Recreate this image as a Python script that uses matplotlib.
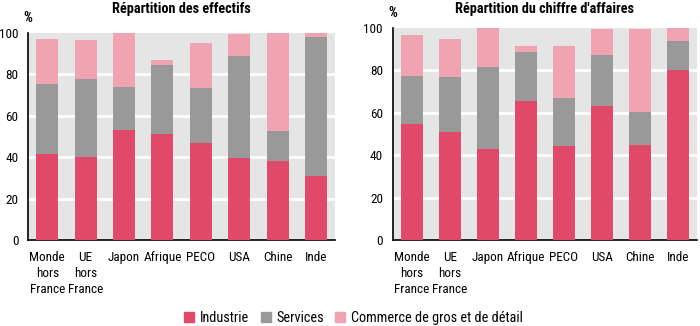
import matplotlib
matplotlib.use('Agg')
import matplotlib.pyplot as plt
from matplotlib.patches import Patch

plt.rcParams['font.family'] = ['Roboto Condensed', 'Archivo Narrow', 'DejaVu Sans']
plt.rcParams['font.size'] = 9

# Categories and shares (%)
regions = ["Monde\nhors\nFrance", "UE\nhors\nFrance", "Japon", "Afrique",
           "PECO", "USA", "Chine", "Inde"]

# Répartition des effectifs
eff_industrie = [41.4, 40.1, 53.2, 51.1, 46.9, 39.8, 38.2, 30.9]
eff_services = [34.0, 37.7, 20.8, 33.2, 26.7, 48.9, 14.6, 67.0]
eff_commerce = [21.5, 18.8, 25.8, 2.4, 21.4, 10.7, 47.0, 1.9]

# Répartition du chiffre d'affaires
ca_industrie = [54.8, 50.9, 42.7, 65.8, 44.1, 63.1, 44.6, 80.0]
ca_services = [22.5, 26.1, 39.0, 22.9, 23.1, 24.0, 15.6, 14.0]
ca_commerce = [19.2, 18.0, 18.3, 3.0, 24.5, 12.3, 39.5, 6.0]

c_ind = '#e0496a'
c_serv = '#999999'
c_com = '#f0a3b0'

fig = plt.figure(figsize=(7, 3.26), dpi=100)
ax1 = fig.add_axes([0.040, 0.264, 0.439, 0.635])
ax2 = fig.add_axes([0.561, 0.264, 0.435, 0.650])


def draw(ax, ind, serv, com, title, tpad):
    x = range(len(regions))
    b2 = [a + b for a, b in zip(ind, serv)]
    ax.bar(x, ind, width=0.57, color=c_ind, zorder=3)
    ax.bar(x, serv, width=0.57, bottom=ind, color=c_serv, zorder=3)
    ax.bar(x, com, width=0.57, bottom=b2, color=c_com, zorder=3)
    ax.set_facecolor('#e5e5e5')
    ax.set_xlim(-0.5, 7.5)
    ax.set_ylim(0, 100)
    ax.set_yticks(range(0, 101, 20))
    for v in range(20, 100, 20):
        ax.axhline(v, color='white', linewidth=2, zorder=1)
    ax.set_xticks(list(x))
    ax.set_xticklabels(regions, linespacing=1.3, va='top')
    ax.tick_params(axis='both', length=0, labelsize=9.5)
    ax.tick_params(axis='y', pad=7)
    ax.tick_params(axis='x', pad=8)
    for s in ['top', 'right']:
        ax.spines[s].set_visible(False)
    for s in ['left', 'bottom']:
        ax.spines[s].set_linewidth(1.2)
    ax.set_title(title, fontweight='bold', fontsize=10.3, pad=tpad)
    ax.text(0.0, 1.04, '%', transform=ax.transAxes, fontsize=10,
            fontweight='bold', ha='center', va='bottom')


draw(ax1, eff_industrie, eff_services, eff_commerce,
     "Répartition des effectifs", 14)
draw(ax2, ca_industrie, ca_services, ca_commerce,
     "Répartition du chiffre d'affaires", 11)

handles = [Patch(color=c_ind, label='Industrie'),
           Patch(color=c_serv, label='Services'),
           Patch(color=c_com, label='Commerce de gros et de détail')]
fig.legend(handles=handles, loc='center', bbox_to_anchor=(0.505, 0.025),
           ncol=3, frameon=False, fontsize=10.3, handlelength=0.7,
           handleheight=0.7, handletextpad=0.4, columnspacing=0.8)

fig.savefig('out.png', dpi=100)
